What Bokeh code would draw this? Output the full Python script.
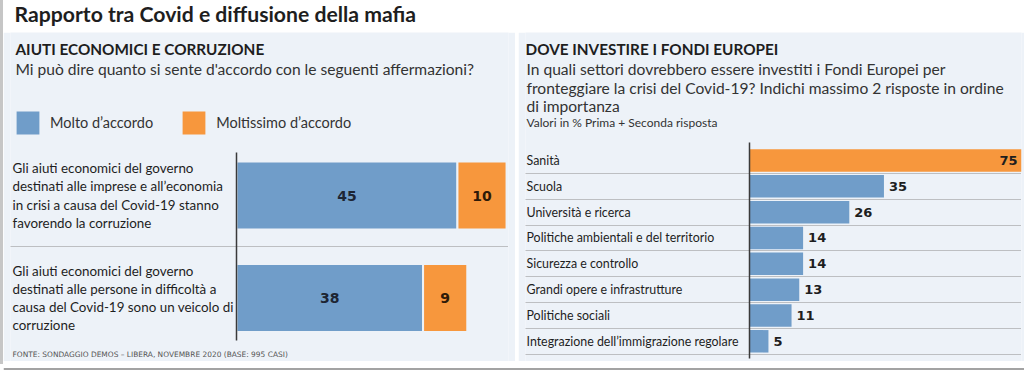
from bokeh.plotting import figure
from bokeh.models import Range1d, Label, LabelSet, ColumnDataSource, Span, FixedTicker, Spacer
from bokeh.layouts import column, row
from bokeh.core.properties import value
from bokeh.embed import file_html
from bokeh.resources import INLINE

# ---------------- data ----------------
chart_title = "Rapporto tra Covid e diffusione della mafia"

left_heading = "AIUTI ECONOMICI E CORRUZIONE"
left_question = "Mi può dire quanto si sente d'accordo con le seguenti affermazioni?"
left_statements = [
    "Gli aiuti economici del governo\ndestinati alle imprese e all’economia\nin crisi a causa del Covid-19 stanno\nfavorendo la corruzione",
    "Gli aiuti economici del governo\ndestinati alle persone in difficoltà a\ncausa del Covid-19 sono un veicolo di\ncorruzione",
]
series_names = ["Molto d’accordo", "Moltissimo d’accordo"]
molto = [45, 38]
moltissimo = [10, 9]
source_note = "FONTE: SONDAGGIO DEMOS – LIBERA, NOVEMBRE 2020 (BASE: 995 CASI)"

right_heading = "DOVE INVESTIRE I FONDI EUROPEI"
right_question_lines = [
    "In quali settori dovrebbero essere investiti i Fondi Europei per",
    "fronteggiare la crisi del Covid-19? Indichi massimo 2 risposte in ordine",
    "di importanza",
]
right_note = "Valori in % Prima + Seconda risposta"
sectors = [
    "Sanità",
    "Scuola",
    "Università e ricerca",
    "Politiche ambientali e del territorio",
    "Sicurezza e controllo",
    "Grandi opere e infrastrutture",
    "Politiche sociali",
    "Integrazione dell’immigrazione regolare",
]
sector_values = [75, 35, 26, 14, 14, 13, 11, 5]

# ---------------- style ----------------
PANEL = "#edf2f8"
BLUE = "#709dc9"
ORANGE = "#f7973d"
TXT = "#1e1e1e"
SUB = "#333333"
AXIS = "#3a3a3a"
SEP = "#8c8c8c"
FONT = "Lato"
NUMFONT = "DejaVu Sans"
H = 329


def screen_label(p, text, lx, ly, frame_left, size, bold=False, color=TXT, font=FONT):
    # ly is the vertical middle of the text line, measured from the panel top
    p.add_layout(Label(x=lx - frame_left, y=H - ly, x_units="screen", y_units="screen",
                       text=text, text_font=font, text_font_size=size,
                       text_font_style="bold" if bold else "normal",
                       text_color=color, text_baseline="middle", text_align="left"))


def style_axis(p, bounds):
    ax = p.yaxis[0]
    ax.fixed_location = 0
    ax.bounds = bounds
    ax.ticker = FixedTicker(ticks=[])
    ax.major_tick_line_color = None
    ax.minor_tick_line_color = None
    ax.axis_line_color = AXIS
    ax.axis_line_width = 1.5


# ---------------- header ----------------
HH = 32
header = figure(width=1021, height=HH, x_range=Range1d(0, 1), y_range=Range1d(0, 1),
                x_axis_location=None, y_axis_location=None, toolbar_location=None,
                output_backend="svg", min_border=0, outline_line_color=None)
header.grid.visible = False
header.add_layout(Label(x=11, y=HH - 13.5, x_units="screen", y_units="screen", text=chart_title,
                        text_font=FONT, text_font_style="bold", text_font_size="21.2px",
                        text_color=TXT, text_baseline="middle"))

# ---------------- left panel ----------------
WL = 512
fl_L, fr_L = 7, 7
axis_L = 233
pxL = 4.91
rowL = 102.5
firstL = 163
xL0 = -(axis_L - fl_L) / pxL
xL1 = (WL - fr_L - axis_L) / pxL
yL_top = -firstL / rowL
yL_bot = (H - firstL) / rowL

pL = figure(width=WL, height=H, x_range=Range1d(xL0, xL1), y_range=Range1d(yL_bot, yL_top),
            x_axis_location=None, y_axis_location="left", toolbar_location=None,
            output_backend="svg", min_border=0, min_border_left=fl_L, min_border_right=fr_L,
            background_fill_color=PANEL, border_fill_color=PANEL, outline_line_color=None)
pL.xgrid.visible = False
pL.ygrid[0].ticker = FixedTicker(ticks=[i + 0.5 for i in range(len(molto) - 1)])
pL.ygrid.grid_line_color = SEP
pL.ygrid.grid_line_dash = "1 1"
style_axis(pL, ((120 - firstL) / rowL, (308 - firstL) / rowL))

yL = list(range(len(molto)))
tot = [a + b for a, b in zip(molto, moltissimo)]
srcL = ColumnDataSource(dict(
    y=yL, molto=molto, tot=tot, text=left_statements,
    mid1=[a / 2 for a in molto], mid2=[a + b / 2 for a, b in zip(molto, moltissimo)],
    t1=[str(v) for v in molto], t2=[str(v) for v in moltissimo],
))
pL.hbar(y="y", left=0, right="molto", height=0.663, source=srcL, fill_color=BLUE,
        line_color=PANEL, line_width=2, legend_label=series_names[0])
pL.hbar(y="y", left="molto", right="tot", height=0.663, source=srcL, fill_color=ORANGE,
        line_color=PANEL, line_width=2, legend_label=series_names[1])
pL.text(x="mid1", y="y", text="t1", source=srcL, text_align="center", text_baseline="middle",
        text_font=value(NUMFONT), text_font_style="bold", text_font_size="14px", text_color="#1d2533")
pL.text(x="mid2", y="y", text="t2", source=srcL, text_align="center", text_baseline="middle",
        text_font=value(NUMFONT), text_font_style="bold", text_font_size="14px", text_color="#2e1a08")
pL.add_layout(LabelSet(x=9 - fl_L, y="y", text="text", source=srcL, x_units="screen", y_units="data",
                       text_baseline="middle", text_align="left", text_font=value(FONT),
                       text_font_size="13.4px", text_line_height=1.14, text_color=TXT))

leg = pL.legend[0]
leg.location = (9 - fl_L, H - 106)
leg.orientation = "horizontal"
leg.glyph_width = 31
leg.glyph_height = 31
leg.label_standoff = 7
leg.spacing = 25
leg.padding = 0
leg.margin = 0
leg.border_line_color = None
leg.background_fill_alpha = 0
leg.label_text_font = FONT
leg.label_text_font_size = "14.5px"
leg.label_text_color = SUB

screen_label(pL, left_heading, 12, 16.7, fl_L, "15.3px", bold=True)
screen_label(pL, left_question, 12, 36.8, fl_L, "15.6px", color=SUB)
screen_label(pL, source_note, 9, 321.5, fl_L, "7.45px", color="#555555", font=NUMFONT)

# ---------------- right panel ----------------
WR = 506
fl_R, fr_R = 7, 3
axis_R = 230.7
pxR = 3.85
rowR = 25.83
firstR = 128
xR0 = -(axis_R - fl_R) / pxR
xR1 = (WR - fr_R - axis_R) / pxR
yR_top = -firstR / rowR
yR_bot = (H - firstR) / rowR

pR = figure(width=WR, height=H, x_range=Range1d(xR0, xR1), y_range=Range1d(yR_bot, yR_top),
            x_axis_location=None, y_axis_location="left", toolbar_location=None,
            output_backend="svg", min_border=0, min_border_left=fl_R, min_border_right=fr_R,
            background_fill_color=PANEL, border_fill_color=PANEL, outline_line_color=None)
pR.xgrid.visible = False
pR.ygrid[0].ticker = FixedTicker(ticks=[i + 0.5 for i in range(len(sectors))])
pR.ygrid.grid_line_color = SEP
pR.ygrid.grid_line_dash = "1 1"
style_axis(pR, ((109.7 - firstR) / rowR, (326 - firstR) / rowR))

yR = list(range(len(sectors)))
vmax = max(sector_values)
inside = [v > xR1 for v in sector_values]
srcR = ColumnDataSource(dict(
    y=yR, v=sector_values, name=sectors,
    color=[ORANGE if v == vmax else BLUE for v in sector_values],
    lx=[min(v, xR1) for v in sector_values],
    align=["right" if i else "left" for i in inside],
    xo=[-4 if i else 5 for i in inside],
    t=[str(v) for v in sector_values],
))
pR.hbar(y="y", left=0, right="v", height=0.87, source=srcR, fill_color="color", line_color=None)
pR.text(x="lx", y="y", text="t", source=srcR, text_align="align", x_offset="xo",
        text_baseline="middle", text_font=value(NUMFONT), text_font_style="bold",
        text_font_size="13px", text_color="#1e1e1e")
pR.add_layout(LabelSet(x=8 - fl_R, y="y", text="name", source=srcR, x_units="screen", y_units="data",
                       text_baseline="middle", text_align="left", text_font=value(FONT),
                       text_font_size="12.4px", text_color=TXT))

screen_label(pR, right_heading, 7, 16.7, fl_R, "15.3px", bold=True)
for i, line in enumerate(right_question_lines):
    screen_label(pR, line, 8, 36.8 + 18.2 * i, fl_R, "15.6px", color=SUB)
screen_label(pR, right_note, 8, 90, fl_R, "12px", color=SUB)

# ---------------- footer ----------------
footer = figure(width=1021, height=12, x_range=Range1d(0, 1), y_range=Range1d(0, 12),
                x_axis_location=None, y_axis_location=None, toolbar_location=None,
                output_backend="svg", min_border=0, outline_line_color=None)
footer.grid.visible = False
footer.add_layout(Span(location=4.5, dimension="width", line_color="#a3a3a3", line_width=2))

strip = Spacer(width=3, height=364, styles={"background-color": "#c6c6c6"})
layout = row(strip, column(header, row(pL, Spacer(width=3, height=H), pR), footer))
open("out.html", "w").write(file_html(layout, INLINE))
